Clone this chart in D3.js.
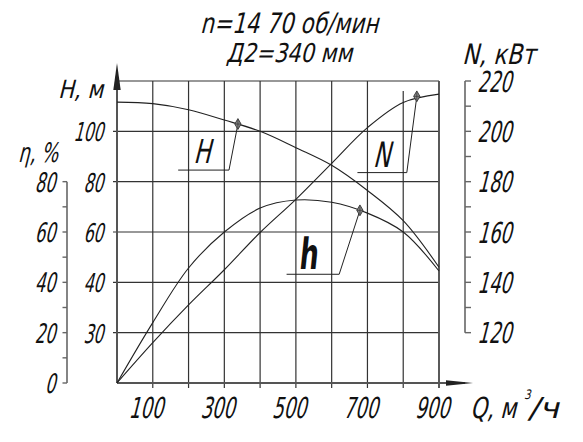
<!DOCTYPE html>
<html>
<head>
<meta charset="utf-8">
<script src="https://cdn.jsdelivr.net/npm/d3@7"></script>
<style>
  html,body{margin:0;padding:0;background:#fff;}
  svg{display:block;font-family:"DejaVu Sans",sans-serif;}
</style>
</head>
<body>
<div id="chart"></div>
<script>
// ---- data ----
const qVals=[0,100,200,300,400,500,600,700,800,900];
const headVals=[111.6,111,108.6,104.5,100,93.5,86.5,76.5,64.5,46];
const powerVals=[100,116,131,145,159.8,173,187.3,201.5,211.5,214.8];
const effVals=[0,24,45.7,60,69.5,72.7,71.8,67.5,60,44.5];

const qTicks=[100,300,500,700,900];
const hTicks=[20,40,60,80,100];
const hTickLabels=['30','40','60','80','100'];
const effTicks=[0,20,40,60,80];
const powerTicks=[120,140,160,180,200,220];

// marker points on the curves [Q, value]
const headMark=[338,102.9];
const powerMark=[838,213.9];
const effMark=[679,68.6];

const W=583,H=442;
const svg=d3.select('#chart').append('svg').attr('width',W).attr('height',H);

const x=d3.scaleLinear().domain([0,900]).range([117,439]);
const yH=d3.scaleLinear().domain([0,120]).range([383,81]);
const yEff=d3.scaleLinear().domain([0,80]).range([yH(0),yH(80)]);
const yN=d3.scaleLinear().domain([120,220]).range([yH(20),yH(120)]);

// text helper: slanted drafting-style lettering
function label(s,px,py,o){
  const sk=o.skew==null?-14:o.skew;
  const t=svg.append('text')
    .attr('transform',`translate(${px},${py}) skewX(${sk})`+(o.sx?` scale(${o.sx},1)`:''))
    .attr('text-anchor',o.anchor||'start').attr('fill','#111')
    .style('font-size',o.size+'px').style('font-weight',o.weight||'normal')
    .text(s);
  if(o.len)t.attr('textLength',o.len).attr('lengthAdjust','spacingAndGlyphs');
  return t;
}

// Grid
const grid=svg.append('g').attr('stroke','#333').attr('stroke-width',1.2);
grid.selectAll('.vg').data(qVals.slice(1)).enter().append('line')
  .attr('x1',d=>x(d)).attr('x2',d=>x(d))
  .attr('y1',d=>d===800?yH(116):yH(120)).attr('y2',yH(0)+5);
grid.selectAll('.hg').data(hTicks).enter().append('line')
  .attr('x1',x(0)-4).attr('x2',x(900)).attr('y1',d=>yH(d)).attr('y2',d=>yH(d));
grid.append('line').attr('x1',x(0)).attr('x2',x(900)).attr('y1',yH(120)).attr('y2',yH(120));
svg.append('line').attr('x1',x(900)).attr('x2',x(900)).attr('y1',yH(120)).attr('y2',yH(0)+5)
  .attr('stroke','#555').attr('stroke-width',1.8);

// Main axes with arrows
svg.append('line').attr('x1',x(0)).attr('x2',x(0)).attr('y1',yH(0)).attr('y2',70)
  .attr('stroke','#555').attr('stroke-width',2);
svg.append('line').attr('x1',x(0)).attr('x2',465).attr('y1',yH(0)).attr('y2',yH(0))
  .attr('stroke','#555').attr('stroke-width',2);
svg.append('path').attr('d',`M${x(0)},63L${x(0)-3.7},90L${x(0)+3.7},90Z`).attr('fill','#222');
svg.append('path').attr('d',`M473,${yH(0)}L446,${yH(0)-2.8}L446,${yH(0)+2.8}Z`).attr('fill','#222');

// Efficiency axis (left)
const effX=67;
svg.append('line').attr('x1',effX).attr('x2',effX).attr('y1',yEff(80)).attr('y2',yEff(0))
  .attr('stroke','#666').attr('stroke-width',1.6);
svg.selectAll('.et').data(d3.range(0,81,10)).enter().append('line')
  .attr('x1',effX-4.5).attr('x2',effX).attr('y1',d=>yEff(d)).attr('y2',d=>yEff(d))
  .attr('stroke','#666').attr('stroke-width',1.4);

// Power axis (right)
const nX=465;
svg.append('line').attr('x1',nX).attr('x2',nX).attr('y1',yN(220)).attr('y2',yN(120))
  .attr('stroke','#666').attr('stroke-width',1.6);
svg.selectAll('.nt').data(d3.range(120,221,10)).enter().append('line')
  .attr('x1',nX).attr('x2',nX+6).attr('y1',d=>yN(d)).attr('y2',d=>yN(d))
  .attr('stroke','#666').attr('stroke-width',1.4);

// Curves
const curve=(ys,yScale)=>d3.line().x((d,i)=>x(qVals[i])).y(d=>yScale(d)).curve(d3.curveCatmullRom.alpha(0.5))(ys);
[[headVals,yH],[powerVals,yN],[effVals,yEff]].forEach(([ys,s])=>{
  svg.append('path').attr('d',curve(ys,s)).attr('fill','none').attr('stroke','#222').attr('stroke-width',1.1);
});

// Leader lines and markers
const leaders=[
  {m:headMark,ys:yH,elbow:[313,84.6],end:171},
  {m:powerMark,ys:yN,elbow:[810,83.6],end:672},
  {m:effMark,ys:yEff,elbow:[621,43.2],end:474}
];
leaders.forEach(l=>{
  const mx=x(l.m[0]),my=l.ys(l.m[1]);
  svg.append('path').attr('d',`M${mx},${my}L${x(l.elbow[0])},${yH(l.elbow[1])}L${x(l.end)},${yH(l.elbow[1])}`)
    .attr('fill','none').attr('stroke','#222').attr('stroke-width',1);
  svg.append('path').attr('d',d3.symbol(d3.symbolDiamond,34)())
    .attr('transform',`translate(${mx},${my})`).attr('fill','#888').attr('stroke','#333').attr('stroke-width',0.9);
  svg.append('path').attr('d',`M${mx-3},${my}L${mx+3},${my}M${mx},${my-4}L${mx},${my+4}`)
    .attr('stroke','#333').attr('stroke-width',0.7);
});

// Curve labels
label('H',x(213),yH(87.4),{size:33,len:17});
label('N',x(715),yH(85.7),{size:35,len:17});
label('h',x(507),yH(45.2),{size:43,len:19,weight:'bold',skew:-6});

// Titles
label('n=14 70 об/мин',200,32.5,{size:28,len:178});
label('Д2=340 мм',226,62,{size:26,len:126});
label('H, м',58,98,{size:25,len:45});
label('η, %',18,162,{size:27,len:40});
label('N, кВт',462,64,{size:28,len:73});
label('Q, м',470,418,{size:29,len:46});
label('3',524,399,{size:13,sx:0.8});
label('/ч',528,418,{size:29,len:31});

// Tick labels
hTicks.forEach((v,i)=>label(hTickLabels[i],103,yH(v)+10,{size:26,sx:0.6,anchor:'end'}));
effTicks.forEach(v=>label(String(v),55,yEff(v)+10,{size:27,sx:0.6,anchor:'end'}));
qTicks.forEach(v=>label(String(v),x(v)-7,418,{size:29,sx:0.62,anchor:'middle'}));
powerTicks.forEach(v=>label(String(v),477,yN(v)+10.5,{size:29,sx:0.62}));
</script>
</body>
</html>
